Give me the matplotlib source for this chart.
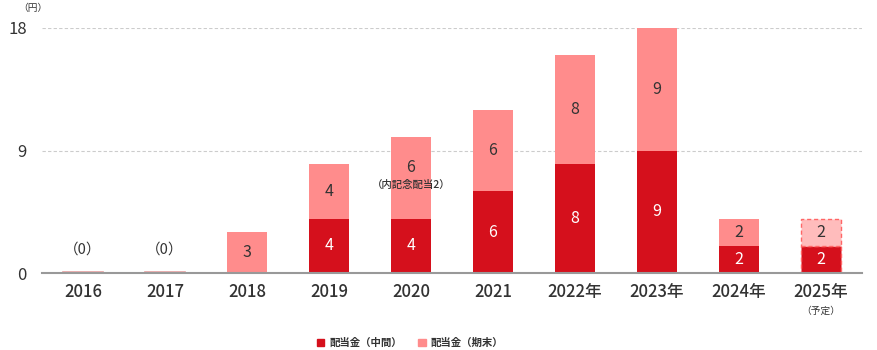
import matplotlib
matplotlib.use("Agg")
import matplotlib.pyplot as plt
from matplotlib.patches import Patch

plt.rcParams['font.family'] = ['Noto Sans CJK JP', 'DejaVu Sans']

years = ["2016", "2017", "2018", "2019", "2020", "2021", "2022年", "2023年", "2024年", "2025年"]
interim = [0, 0, 0, 4, 4, 6, 8, 9, 2, 2]
year_end = [0, 0, 3, 4, 6, 6, 8, 9, 2, 2]
forecast = [False] * 9 + [True]
yticks = [0, 9, 18]

c_dark = "#d5101c"
c_light = "#ff8c8c"
c_light_fc = "#ffbcbc"
txt = "#333333"

fig = plt.figure(figsize=(8.78, 3.5), dpi=100)
ax = fig.add_axes([42/878, 77/350, 820/878, 245/350])
x = list(range(len(years)))
w = 0.49

for i in x:
    if forecast[i]:
        ax.bar(i, interim[i], w, color=c_dark, edgecolor="#ff6666", linestyle=(0, (3, 2)), linewidth=1.0, zorder=3)
        ax.bar(i, year_end[i], w, bottom=interim[i], color=c_light_fc, edgecolor="#ff6666", linestyle=(0, (3, 2)), linewidth=1.0, zorder=3)
    else:
        ax.bar(i, interim[i], w, color=c_dark, zorder=3)
        ax.bar(i, year_end[i], w, bottom=interim[i], color=c_light, zorder=3)
    if interim[i] == 0 and year_end[i] == 0:
        ax.text(i, 1.75, "（0）", ha="center", va="center", fontsize=10.5, color=txt)
        ax.plot([i - w/2, i + w/2], [0.05, 0.05], color="#e8a0a0", lw=1.2, zorder=4)
        continue
    if interim[i] > 0:
        ax.text(i, interim[i] / 2, str(interim[i]), ha="center", va="center", fontsize=11.5, color="white", zorder=5)
    if year_end[i] > 0:
        ly = interim[i] + year_end[i] / 2
        if i == 4:
            ly = 7.75
        ax.text(i, ly, str(year_end[i]), ha="center", va="center", fontsize=11.5, color=txt, zorder=5)

ax.text(4, 6.5, "（内記念配当2）", ha="center", va="center", fontsize=7.5, color=txt, zorder=5, fontweight="medium")

ax.set_xlim(-0.5, len(years) - 0.5)
ax.set_ylim(0, 18)
ax.set_yticks(yticks)
ax.set_yticklabels([str(v) for v in yticks], fontsize=12, color=txt)
ax.set_xticks(x)
ax.set_xticklabels(years, fontsize=12, color=txt, fontweight="medium")
ax.tick_params(axis="both", length=0)
ax.tick_params(axis="x", pad=7)
ax.tick_params(axis="y", pad=11)
for v in yticks[1:]:
    ax.axhline(v, color="#cccccc", lw=0.8, linestyle=(0, (3, 2)), zorder=1)
for s in ["top", "right", "left"]:
    ax.spines[s].set_visible(False)
ax.spines["bottom"].set_color("#999999")
ax.spines["bottom"].set_linewidth(1.5)
ax.spines["bottom"].set_zorder(4)

ax.text(9, -0.135, "（予定）", transform=ax.get_xaxis_transform(), ha="center", va="top", fontsize=7, color=txt)
fig.text(18/878, 1 - 8/350, "（円）", fontsize=7, color=txt, ha="left", va="center")

handles = [Patch(color=c_dark, label="配当金（中間）"), Patch(color=c_light, label="配当金（期末）")]
fig.legend(handles=handles, loc="center", bbox_to_anchor=(410/878, 1 - 343/350), ncol=2, frameon=False,
           fontsize=7.5, handlelength=0.7, handleheight=0.7, handletextpad=0.5, columnspacing=1.6, labelcolor=txt,
           prop={"weight": "bold", "size": 7.5})

fig.savefig("out.png", dpi=100)
